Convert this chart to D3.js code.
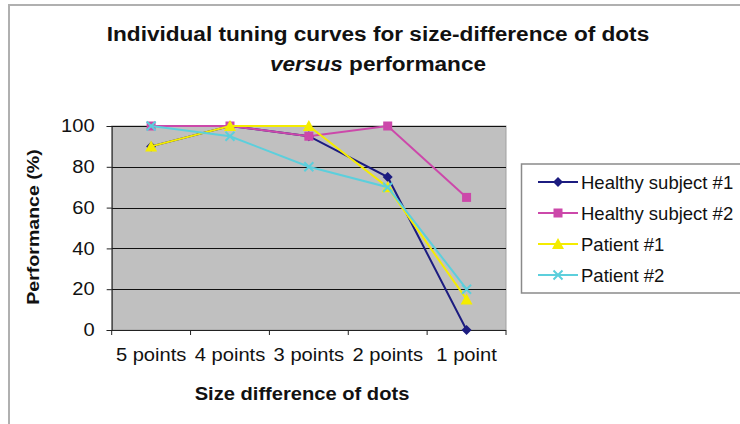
<!DOCTYPE html>
<html>
<head>
<meta charset="utf-8">
<script src="https://cdn.jsdelivr.net/npm/d3@7"></script>
<style>
  html, body { margin: 0; padding: 0; background: #fff; }
  svg { display: block; font-family: "Liberation Sans", Arial, sans-serif; }
</style>
</head>
<body>
<svg id="chart" width="740" height="424"></svg>
<script>
// ---- data ----
const categories = ["5 points", "4 points", "3 points", "2 points", "1 point"];
const healthy1 = [90, 100, 95, 75, 0];
const healthy2 = [100, 100, 95, 100, 65];
const patient1 = [90, 100, 100, 70, 15];
const patient2 = [100, 95, 80, 70, 20];
const seriesNames = ["Healthy subject #1", "Healthy subject #2", "Patient #1", "Patient #2"];
const yTicks = [0, 20, 40, 60, 80, 100];
const titleLines = ["Individual tuning curves for size-difference of dots", "performance"];

const seriesValues = [healthy1, healthy2, patient1, patient2];
const colors = ["#1c1c80", "#cc48aa", "#f4ec00", "#5ccfdc"];
const markers = ["diamond", "square", "triangle", "cross"];

const svg = d3.select("#chart");
const W = 740, H = 424;
const plot = { left: 111.7, right: 506, top: 126, bottom: 330 };
const stretchF = 1.19;

function stretch(sel, f) {
  sel.each(function () {
    const len = this.getComputedTextLength();
    d3.select(this).attr("textLength", len * f).attr("lengthAdjust", "spacingAndGlyphs");
  });
}

// outer border
svg.append("rect").attr("x", 9).attr("y", 5).attr("width", W + 20).attr("height", H + 20)
  .attr("fill", "#fff").attr("stroke", "#b0b0b0").attr("stroke-width", 2);

const x = d3.scaleBand().domain(categories).range([plot.left, plot.right]);
const y = d3.scaleLinear().domain([0, 100]).range([plot.bottom, plot.top]);

// plot area
svg.append("rect").attr("x", plot.left).attr("y", plot.top)
  .attr("width", plot.right - plot.left).attr("height", plot.bottom - plot.top)
  .attr("fill", "#c0c0c0").attr("stroke", "#a0a0a0").attr("stroke-width", 1);

// gridlines
svg.append("g").selectAll("line").data(yTicks).join("line")
  .attr("x1", plot.left).attr("x2", plot.right)
  .attr("y1", d => Math.round(y(d)) + 0.5).attr("y2", d => Math.round(y(d)) + 0.5)
  .attr("stroke", "#111").attr("stroke-width", 1);

// y axis
const yAxis = svg.append("g").attr("transform", `translate(${plot.left},0)`)
  .call(d3.axisLeft(y).tickValues(yTicks).tickSize(5).tickPadding(12));
yAxis.select(".domain").attr("stroke", "#222");
yAxis.selectAll(".tick line").attr("stroke", "#222");
yAxis.selectAll("text").attr("font-size", 17.5).attr("fill", "#111")
  .attr("font-family", "Liberation Sans, Arial, sans-serif");
stretch(yAxis.selectAll("text"), 1.15);

// x axis
const xAxis = svg.append("g").attr("transform", `translate(0,${plot.bottom})`)
  .call(d3.axisBottom(x).tickSize(0).tickPadding(0));
xAxis.select(".domain").remove();
xAxis.selectAll("text").attr("font-size", 17.5).attr("fill", "#111")
  .attr("font-family", "Liberation Sans, Arial, sans-serif")
  .attr("dy", null).attr("y", 31);
stretch(xAxis.selectAll("text"), 1.15);
const bounds = categories.map(c => x(c)).concat([x(categories[categories.length - 1]) + x.bandwidth()]);
svg.append("line").attr("x1", plot.left).attr("x2", plot.right)
  .attr("y1", plot.bottom + 0.5).attr("y2", plot.bottom + 0.5).attr("stroke", "#222");
svg.append("g").selectAll("line").data(bounds).join("line")
  .attr("x1", d => d).attr("x2", d => d)
  .attr("y1", plot.bottom).attr("y2", plot.bottom + 5).attr("stroke", "#222");

// series lines
const line = d3.line().x((d, i) => x(categories[i]) + x.bandwidth() / 2).y(d => y(d));

function drawMarker(g, type, cx, cy, color) {
  if (type === "diamond") {
    g.append("path").attr("d", `M${cx},${cy - 5}L${cx + 5},${cy}L${cx},${cy + 5}L${cx - 5},${cy}Z`)
      .attr("fill", color);
  } else if (type === "square") {
    g.append("rect").attr("x", cx - 4.5).attr("y", cy - 4.5).attr("width", 9).attr("height", 9)
      .attr("fill", color);
  } else if (type === "triangle") {
    g.append("path").attr("d", `M${cx},${cy - 6}L${cx + 6},${cy + 5}L${cx - 6},${cy + 5}Z`)
      .attr("fill", color);
  } else if (type === "cross") {
    g.append("path").attr("d", `M${cx - 4.5},${cy - 4.5}L${cx + 4.5},${cy + 4.5}M${cx + 4.5},${cy - 4.5}L${cx - 4.5},${cy + 4.5}`)
      .attr("stroke", color).attr("stroke-width", 2).attr("fill", "none");
  }
}

seriesValues.forEach((vals, s) => {
  const g = svg.append("g");
  g.append("path").datum(vals).attr("d", line).attr("fill", "none")
    .attr("stroke", colors[s]).attr("stroke-width", 2);
  vals.forEach((v, i) => drawMarker(g, markers[s], x(categories[i]) + x.bandwidth() / 2, y(v), colors[s]));
});

// legend
const leg = svg.append("g");
leg.append("rect").attr("x", 521.5).attr("y", 164).attr("width", 240).attr("height", 129)
  .attr("fill", "#fff").attr("stroke", "#8a8a8a").attr("stroke-width", 1.5);
const legY = d3.scalePoint().domain(seriesNames).range([182, 275]);
seriesNames.forEach((name, s) => {
  const ly = legY(name);
  leg.append("line").attr("x1", 538).attr("x2", 578).attr("y1", ly).attr("y2", ly)
    .attr("stroke", colors[s]).attr("stroke-width", 2);
  drawMarker(leg, markers[s], 558, ly, colors[s]);
  leg.append("text").attr("x", 581).attr("y", ly + 6.5).attr("font-size", 18.5)
    .attr("fill", "#111").text(name);
});

// title
const t1 = svg.append("text").attr("x", 378).attr("y", 41).attr("text-anchor", "middle")
  .attr("font-size", 20).attr("font-weight", "bold").attr("fill", "#111").text(titleLines[0]);
stretch(t1, 1.13);
const t2 = svg.append("text").attr("x", 378).attr("y", 71).attr("text-anchor", "middle")
  .attr("font-size", 20).attr("font-weight", "bold").attr("fill", "#111");
t2.append("tspan").attr("font-style", "italic").text("versus");
t2.append("tspan").text(" " + titleLines[1]);
stretch(t2, 1.13);

// axis titles
const xt = svg.append("text").attr("x", 302).attr("y", 400).attr("text-anchor", "middle")
  .attr("font-size", 17.5).attr("font-weight", "bold").attr("fill", "#111").text("Size difference of dots");
stretch(xt, 1.15);
const yt = svg.append("text").attr("transform", "translate(39,227) rotate(-90)").attr("text-anchor", "middle")
  .attr("font-size", 17).attr("font-weight", "bold").attr("fill", "#111").text("Performance (%)");
stretch(yt, 1.15);
</script>
</body>
</html>
